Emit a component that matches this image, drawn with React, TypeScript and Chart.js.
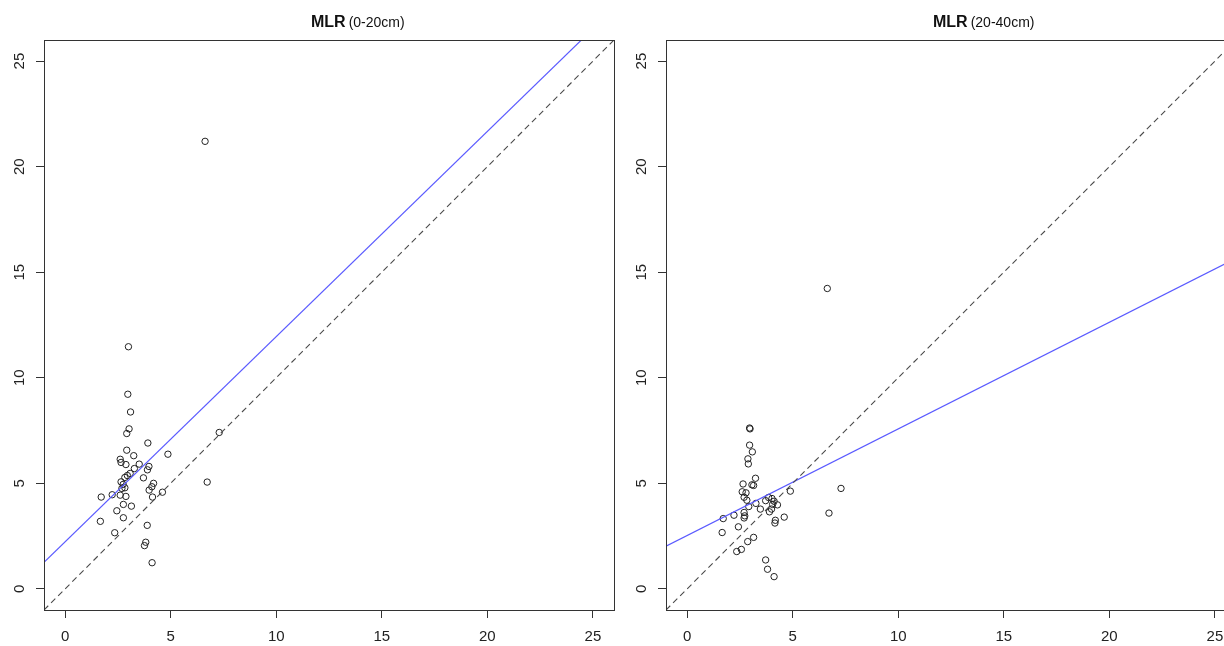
import React, { useEffect, useRef } from "react";
import { Chart, registerables } from "chart.js";

Chart.register(...registerables);

// ---------- data ----------
const xTicks = [0, 5, 10, 15, 20, 25];
const yTicks = [0, 5, 10, 15, 20, 25];
const axisMin = -1;
const axisMax = 26;

// MLR (0-20cm): observed vs predicted
const obs020 = [
  3.0, 2.97, 3.1, 3.03, 2.92, 3.92, 2.92, 3.25, 4.87, 2.61, 2.65, 2.88, 3.51, 3.28, 3.97, 3.9,
  3.08, 2.95, 2.83, 3.71, 2.65, 2.75, 2.69, 2.83, 4.19, 4.11, 3.98, 4.61, 1.71, 2.23, 2.61, 2.88,
  4.14, 2.76, 3.14, 2.45, 2.76, 1.67, 3.89, 2.35, 3.82, 3.76, 4.12, 6.63, 6.73, 7.3,
];
const pred020 = [
  11.47, 9.22, 8.38, 7.58, 7.36, 6.91, 6.57, 6.31, 6.38, 6.14, 5.99, 5.89, 5.91, 5.7, 5.8, 5.64,
  5.47, 5.37, 5.28, 5.26, 5.07, 4.95, 4.76, 4.79, 5.0, 4.84, 4.68, 4.58, 4.35, 4.46, 4.44, 4.38,
  4.35, 4.0, 3.92, 3.7, 3.37, 3.2, 3.01, 2.66, 2.21, 2.05, 1.24, 21.2, 5.06, 7.41,
];

// MLR (20-40cm): observed vs predicted
const obs2040 = [
  2.96, 2.98, 2.96, 3.09, 2.88, 2.9, 3.24, 2.65, 3.07, 3.15, 2.61, 2.79, 4.89, 2.7, 2.83, 2.92,
  3.26, 3.47, 3.86, 4.02, 4.12, 4.05, 4.28, 4.0, 4.6, 1.71, 2.22, 2.7, 2.73, 2.7, 4.18, 4.16,
  1.66, 2.43, 3.15, 2.87, 2.57, 2.35, 3.72, 3.81, 4.12, 6.64, 7.29, 6.72, 3.72, 3.9,
];
const pred2040 = [
  7.62, 7.58, 6.81, 6.49, 6.16, 5.92, 5.24, 4.97, 4.93, 4.9, 4.6, 4.55, 4.63, 4.34, 4.2, 3.9,
  4.05, 3.78, 4.33, 4.28, 4.15, 4.0, 3.98, 3.78, 3.4, 3.33, 3.49, 3.62, 3.46, 3.36, 3.25, 3.12,
  2.67, 2.94, 2.44, 2.24, 1.87, 1.77, 1.37, 0.93, 0.58, 14.23, 4.76, 3.59, 4.18, 3.65,
];

// fitted regression lines (end points)
const fit020X = [-1, 26];
const fit020Y = [1.26, 27.5];
const fit2040X = [-1, 26];
const fit2040Y = [2.02, 15.66];

// 1:1 reference line
const oneToOneX = [-1, 26];
const oneToOneY = [-1, 26];

const FONT = '"Liberation Sans", Arial, Helvetica, sans-serif';

function makeTitlePlugin(depth: string) {
  return {
    id: "boxTitle",
    afterDraw(chart: any) {
      const { ctx, chartArea: a } = chart;
      ctx.save();
      ctx.strokeStyle = "#333";
      ctx.lineWidth = 1;
      ctx.strokeRect(
        Math.round(a.left) + 0.5,
        Math.round(a.top) + 0.5,
        Math.round(a.right - a.left),
        Math.round(a.bottom - a.top)
      );
      ctx.fillStyle = "#111";
      ctx.textBaseline = "alphabetic";
      ctx.textAlign = "left";
      let x = a.left + 267;
      const y = 27;
      ctx.font = `bold 16px ${FONT}`;
      ctx.fillText("MLR", x, y);
      x += ctx.measureText("MLR").width + 3;
      ctx.font = `14px ${FONT}`;
      ctx.fillText(`(${depth})`, x, y);
      ctx.restore();
    },
  };
}

function Panel(props: {
  left: number;
  obs: number[];
  pred: number[];
  fitX: number[];
  fitY: number[];
  depth: string;
}) {
  const ref = useRef<HTMLCanvasElement | null>(null);
  useEffect(() => {
    if (!ref.current) return;
    const points = props.obs.map((v, i) => ({ x: v, y: props.pred[i] }));
    const fit = props.fitX.map((v, i) => ({ x: v, y: props.fitY[i] }));
    const oneToOne = oneToOneX.map((v, i) => ({ x: v, y: oneToOneY[i] }));
    const chart = new Chart(ref.current, {
      type: "scatter",
      data: {
        datasets: [
          {
            data: oneToOne,
            showLine: true,
            borderColor: "#4a4a4a",
            borderWidth: 1.1,
            borderDash: [6, 4],
            pointRadius: 0,
          },
          {
            data: fit,
            showLine: true,
            borderColor: "#5a5aff",
            borderWidth: 1.2,
            pointRadius: 0,
          },
          {
            data: points,
            showLine: false,
            pointRadius: 3.2,
            pointBorderWidth: 1,
            pointBorderColor: "#222",
            pointBackgroundColor: "rgba(0,0,0,0)",
          },
        ],
      },
      options: {
        animation: false,
        responsive: false,
        maintainAspectRatio: false,
        devicePixelRatio: 1,
        layout: { padding: { left: 0, right: 6, top: 40, bottom: 0 } },
        plugins: {
          legend: { display: false },
          tooltip: { enabled: false },
          title: { display: false },
        },
        scales: {
          x: {
            type: "linear",
            min: axisMin,
            max: axisMax,
            afterBuildTicks: (s: any) => {
              s.ticks = xTicks.map((v) => ({ value: v }));
            },
            afterFit: (s: any) => {
              s.height = 36;
            },
            grid: {
              display: true,
              drawOnChartArea: false,
              drawTicks: true,
              tickLength: 8,
              color: "#333",
            },
            border: { display: false },
            ticks: {
              font: { family: FONT, size: 15 },
              color: "#222",
              padding: 10,
              maxRotation: 0,
              autoSkip: false,
            },
          },
          y: {
            type: "linear",
            min: axisMin,
            max: axisMax,
            afterBuildTicks: (s: any) => {
              s.ticks = yTicks.map((v) => ({ value: v }));
            },
            afterFit: (s: any) => {
              s.width = 44;
            },
            grid: {
              display: true,
              drawOnChartArea: false,
              drawTicks: true,
              tickLength: 8,
              color: "#333",
            },
            border: { display: false },
            ticks: {
              font: { family: FONT, size: 15 },
              color: "#222",
              padding: 8,
              minRotation: 90,
              maxRotation: 90,
              crossAlign: "center",
              autoSkip: false,
            },
          },
        },
      } as any,
      plugins: [makeTitlePlugin(props.depth)],
    });
    return () => chart.destroy();
  }, []);
  return (
    <canvas
      ref={ref}
      width={620}
      height={646}
      style={{ position: "absolute", left: props.left, top: 0, width: 620, height: 646 }}
    />
  );
}

export default function App() {
  return (
    <div
      style={{
        position: "fixed",
        left: 0,
        top: 0,
        width: 1224,
        height: 646,
        overflow: "hidden",
        background: "#fff",
      }}
    >
      <Panel left={0} obs={obs020} pred={pred020} fitX={fit020X} fitY={fit020Y} depth="0-20cm" />
      <Panel left={622} obs={obs2040} pred={pred2040} fitX={fit2040X} fitY={fit2040Y} depth="20-40cm" />
    </div>
  );
}
